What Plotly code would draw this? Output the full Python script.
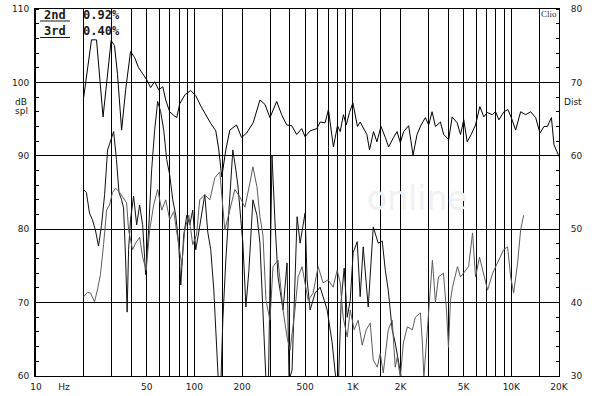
import math
import plotly.graph_objects as go

# ---------------- data ----------------
# Frequency response, dB SPL (left axis)
resp_freq = [20, 22.4, 24.1, 26.5, 29.8, 31.3, 32.7, 34.7, 36.8, 39.5,
             41.9, 44.4, 47.1, 49.9, 52.9, 56.1, 59.5, 63.1, 65.9, 69.8,
             74.0, 77.3, 80.8, 87.0, 94.8, 101.9, 109.6, 117.9, 126.8, 136.4,
             142.5, 148.8, 157.8, 167.2, 184.4, 198.3, 213.5, 234.8, 259.1, 278.7,
             299.8, 330.4, 355.3, 382.2, 411.1, 442.2, 475.6, 499.4, 537.2, 591.9,
             621.5, 668.0, 701.0, 753.9, 799.1, 831.8, 872.2, 907.8, 951.7, 1000,
             1034, 1069, 1112, 1226, 1274, 1350, 1419, 1504, 1602, 1680,
             1807, 1899, 1993, 2091, 2249, 2398, 2541, 2694, 2869, 3010,
             3162, 3320, 3568, 3744, 4028, 4232, 4552, 4780, 5012, 5267,
             5583, 5943, 6330, 6708, 7049, 7582, 7956, 8347, 8980, 9517,
             10000, 10650, 11450, 12320, 13250, 14250, 15170, 16080, 16900, 17910,
             18600, 20000]
resp_spl = [98.0, 105.8, 105.8, 95.3, 105.7, 105.0, 101.1, 93.5, 99.0, 104.2,
            103.4, 102.0, 101.2, 100.4, 99.3, 100.1, 99.0, 99.4, 97.6, 96.0,
            95.5, 95.2, 97.1, 98.3, 98.9, 98.2, 96.8, 95.5, 94.4, 93.4,
            90.8, 87.1, 90.8, 93.5, 94.2, 92.5, 93.1, 94.5, 97.6, 97.0,
            95.2, 97.4, 95.6, 94.2, 94.1, 92.9, 93.7, 92.6, 93.4, 93.7,
            94.6, 94.5, 96.3, 91.2, 94.1, 93.3, 95.6, 94.2, 95.9, 97.2,
            95.3, 94.0, 94.6, 92.9, 90.8, 93.3, 91.9, 94.0, 92.5, 91.2,
            92.5, 93.3, 91.8, 93.3, 94.1, 90.1, 92.9, 94.2, 95.2, 94.2,
            96.0, 94.0, 94.6, 92.9, 92.2, 95.3, 94.5, 92.9, 94.9, 91.9,
            92.9, 94.2, 96.7, 95.3, 95.9, 95.6, 96.0, 94.9, 96.0, 96.3,
            95.2, 93.5, 96.0, 95.6, 96.0, 95.2, 93.1, 94.0, 94.0, 95.2,
            91.5, 89.9]

# 2nd harmonic distortion (right axis "Dist")
h2_freq = [20, 20.8, 21.75, 22.7, 23.7, 24.8, 25.9, 27.1, 28.3, 29.5,
           30.9, 32.2, 33.4, 34.7, 35.7, 36.8, 37.6, 38.4, 39.5, 41.3,
           43.2, 45.1, 47.1, 49.2, 51.4, 53.7, 56.1, 58.6, 61.2, 64.0,
           66.8, 69.8, 73.0, 76.2, 79.6, 82.0, 85.6, 89.5, 93.5, 97.6,
           101.9, 106.5, 111.2, 116.2, 121.4, 126.8, 132.5, 138.4, 142.5, 146.7,
           151.1, 157.8, 164.8, 174.7, 182.5, 188.0, 196.3, 202.2, 211.3, 220.7,
           233.9, 248.0, 259.1, 270.7, 282.8, 293, 308.7, 322.5, 336.9, 362.4,
           384.2, 395.5, 413.2, 444.5, 464.3, 499.4, 514.2, 537.2, 577.8, 621.5,
           688.3, 740.3, 773.4, 807.9, 844, 881.7, 921, 962.3, 1004, 1065,
           1112, 1162, 1250, 1345, 1446, 1532, 1602, 1672, 1771, 1851,
           1935, 2022, 2113]
h2_dist = [55.4, 55.0, 52.2, 51.3, 49.9, 47.7, 50.5, 54.7, 60.8, 61.9,
           63.3, 59.5, 55.0, 54.0, 52.9, 45.8, 38.7, 47.2, 51.3, 54.5,
           50.6, 53.3, 50.6, 43.8, 49.9, 58.1, 63.5, 67.4, 66.0, 63.5,
           59.5, 57.4, 54.0, 51.9, 47.9, 42.4, 49.2, 51.9, 50.6, 52.6,
           47.2, 49.6, 52.4, 54.7, 49.6, 47.2, 41.7, 34.2, 28.0, 28.7,
           37.6, 45.8, 51.9, 60.8, 58.1, 56.0, 51.3, 48.1, 39.4, 44.4,
           54.0, 51.9, 48.1, 39.0, 29.4, 28.8, 60.1, 50.9, 43.5, 39.0,
           45.4, 29.4, 30.8, 51.7, 48.1, 52.2, 43.1, 39.0, 41.3, 42.1,
           39.0, 34.5, 30.4, 28.0, 40.3, 44.7, 38.0, 40.3, 46.8, 48.3,
           40.8, 47.6, 39.4, 50.3, 48.1, 48.4, 44.4, 41.7, 36.3, 34.5,
           31.8, 29.4, 27.4]

# 3rd harmonic distortion (right axis "Dist")
h3_freq = [20, 21.1, 22.1, 23.4, 24.4, 25.5, 26.7, 27.9, 29.1, 30.4,
           31.8, 33.5, 35.2, 37.3, 38.4, 40.7, 42.5, 45.1, 47.1, 49.6,
           52.2, 55.3, 58.6, 62.2, 65.9, 69.8, 74.0, 78.5, 83.2, 86.9,
           92.1, 97.6, 103.1, 108.0, 116.2, 125.0, 134.5, 144.6, 155.5, 167.2,
           179.9, 193.5, 208.2, 223.9, 233.9, 248.0, 259.1, 270.7, 282.8, 299.8,
           313.2, 336.9, 362.4, 384.2, 401.3, 431.3, 451.0, 478.0, 521.7, 560.9,
           603.6, 648.6, 698.4, 750.4, 795.6, 831.8, 868.4, 921.2, 962.3, 1019,
           1080, 1145, 1214, 1287, 1345, 1425, 1488, 1555, 1672, 1771,
           1851, 1907, 1993, 2082, 2207, 2374, 2480, 2668, 2747, 2806,
           2953, 3019, 3178, 3320, 3469, 3729, 3898, 4013, 4132, 4254,
           4573, 4780, 5142, 5372, 5694, 5943, 6302, 7086, 7622, 8193,
           8941, 9476, 9908, 10340, 10960, 11450, 11960]
h3_dist = [40.8, 41.4, 41.3, 40.1, 41.7, 43.8, 47.9, 52.6, 53.3, 55.0,
           55.6, 55.1, 54.4, 53.6, 49.9, 47.2, 48.1, 48.9, 46.2, 44.4,
           49.9, 53.3, 55.4, 52.6, 54.0, 51.3, 52.4, 48.5, 45.1, 49.9,
           51.9, 47.9, 49.2, 54.0, 54.7, 54.0, 57.0, 57.8, 49.9, 52.6,
           55.4, 54.4, 53.0, 56.3, 58.5, 55.8, 51.7, 49.2, 40.3, 37.6,
           44.9, 45.8, 39.0, 35.3, 33.5, 39.0, 43.5, 44.9, 40.3, 41.3,
           44.9, 42.7, 43.1, 42.1, 44.4, 42.7, 38.0, 35.3, 39.0, 36.3,
           37.6, 34.2, 36.3, 37.2, 32.2, 31.2, 33.1, 30.4, 36.3, 37.6,
           31.2, 32.6, 29.8, 34.5, 36.7, 36.3, 38.0, 38.6, 34.5, 29.8,
           36.3, 39.4, 45.8, 40.0, 43.5, 44.0, 39.0, 33.9, 40.3, 42.1,
           44.9, 43.5, 44.4, 44.9, 49.5, 43.5, 46.2, 41.7, 44.0, 45.4,
           47.2, 47.6, 43.5, 41.3, 45.4, 49.9, 51.9]

x_label_vals = [10, 15, 50, 100, 200, 500, 1000, 2000, 5000, 10000, 20000]
x_label_text = ['10', 'Hz', '50', '100', '200', '500', '1K', '2K', '5K', '10K', '20K']
x_grid_vals = [20, 30, 40, 50, 60, 70, 80, 90, 100, 150,
               200, 300, 400, 500, 600, 700, 800, 900, 1000, 1500,
               2000, 3000, 4000, 5000, 6000, 7000, 8000, 9000, 10000, 15000]
spl_ticks = [60, 70, 80, 90, 100, 110]
dist_ticks = [30, 40, 50, 60, 70, 80]
legend_names = ['2nd', '3rd']
legend_values = ['0.92%', '0.40%']

# ---------------- layout geometry ----------------
FIG_W, FIG_H = 600, 396
L, R, T, B = 36, 41, 9, 20
PW, PH = FIG_W - L - R, FIG_H - T - B


def px(x):
    return (x - L) / PW


def py(y):
    return 1 - (y - T) / PH


TXT = '#1a1a1a'
tick_font = dict(family='DejaVu Sans', size=9, color=TXT)
leg_font = dict(family='DejaVu Sans Mono', size=12, color=TXT, weight='bold')

fig = go.Figure()

# faint watermark behind the curves
fig.add_trace(go.Scatter(x=[2550], y=[83.7], mode='text', text=['online'],
                         textfont=dict(family='DejaVu Sans', size=33, color='#f1f1f1'),
                         hoverinfo='skip', showlegend=False))

fig.add_trace(go.Scatter(x=resp_freq, y=resp_spl, mode='lines', name='SPL',
                         line=dict(color='#000000', width=1)))
fig.add_trace(go.Scatter(x=h2_freq, y=h2_dist, mode='lines', name='2nd', yaxis='y2',
                         line=dict(color='#111111', width=1)))
fig.add_trace(go.Scatter(x=h3_freq, y=h3_dist, mode='lines', name='3rd', yaxis='y2',
                         line=dict(color='#5c5c5c', width=1)))

annotations = [
    dict(x=px(21), y=py(101.5), text='dB', font=tick_font),
    dict(x=px(21.5), y=py(111), text='spl', font=tick_font),
    dict(x=px(572.5), y=py(101.5), text='Dist', font=tick_font),
    dict(x=px(548.5), y=py(14.5), text='Clio',
         font=dict(family='Liberation Serif', size=9, color='#333333')),
]
shapes = []
for i, (nm, val) in enumerate(zip(legend_names, legend_values)):
    yc = 15 + i * 16.5
    annotations.append(dict(x=px(42), y=py(yc), text=nm, xanchor='left', font=leg_font))
    annotations.append(dict(x=px(81), y=py(yc), text=val, xanchor='left', font=leg_font))
    shapes.append(dict(type='line', xref='paper', yref='paper',
                       x0=px(40), x1=px(70), y0=py(yc + 6), y1=py(yc + 6),
                       line=dict(color=TXT, width=1)))
for a in annotations:
    a.setdefault('xref', 'paper')
    a.setdefault('yref', 'paper')
    a.setdefault('xanchor', 'center')
    a.setdefault('yanchor', 'middle')
    a.setdefault('showarrow', False)

fig.update_layout(
    width=FIG_W, height=FIG_H, autosize=False,
    margin=dict(l=L, r=R, t=T, b=B, pad=0),
    paper_bgcolor='white', plot_bgcolor='white',
    showlegend=False,
    hovermode=False,
    xaxis=dict(type='log', range=[1, math.log10(20000)],
               tickmode='array', tickvals=x_label_vals, ticktext=x_label_text,
               showgrid=False, ticks='', tickfont=tick_font, ticklabelstandoff=2,
               showline=True, linecolor='black', linewidth=1, mirror=True,
               zeroline=False, automargin=False,
               minor=dict(tickmode='array', tickvals=x_grid_vals, showgrid=True,
                          gridcolor='black', gridwidth=1, ticks='')),
    yaxis=dict(range=[60, 110], tickmode='array', tickvals=spl_ticks,
               showgrid=True, gridcolor='black', gridwidth=1,
               showline=True, linecolor='black', linewidth=2,
               zeroline=False, ticks='', tickfont=tick_font, ticklabelstandoff=3,
               automargin=False,
               minor=dict(dtick=2, tick0=60, ticks='inside', ticklen=3,
                          tickcolor='black', showgrid=False)),
    yaxis2=dict(range=[30, 80], overlaying='y', side='right',
                tickmode='array', tickvals=dist_ticks, showgrid=False,
                showline=True, linecolor='black', linewidth=1,
                zeroline=False, ticks='', tickfont=tick_font, ticklabelstandoff=9,
                automargin=False,
                minor=dict(dtick=2, tick0=30, ticks='inside', ticklen=3,
                           tickcolor='black', showgrid=False)),
    annotations=annotations,
    shapes=shapes,
)

fig.write_html('out.html', config={'displayModeBar': False},
               post_script="document.body.style.margin='0';")
